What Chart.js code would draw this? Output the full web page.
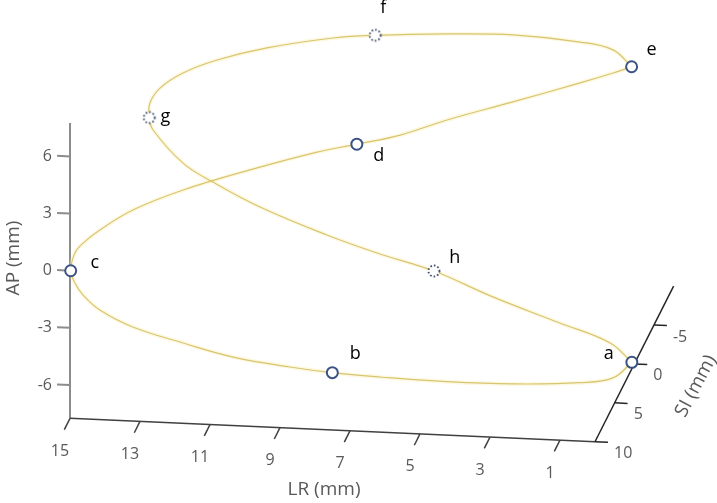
<!DOCTYPE html>
<html><head><meta charset="utf-8">
<script src="https://cdn.jsdelivr.net/npm/chart.js@4.4.1/dist/chart.umd.min.js"></script>
<style>html,body{margin:0;padding:0;background:#fff;}canvas{display:block;}</style>
</head><body>
<canvas id="c" width="717" height="503"></canvas>
<script>
// ---- trajectory samples (mm) ----
const trajLR = [0.07,0.33,1.10,2.86,4.64,6.50,7.83,8.97,10.52,11.88,13.26,14.17,14.63,14.86,14.98,14.86,14.63,14.17,13.26,11.88,10.06,8.22,7.13,5.96,4.70,3.02,1.38,0.55,0.11,0.89,2.00,4.08,6.08,8.20,9.46,11.44,12.93,13.95,14.64,14.95,14.98,14.86,13.96,13.06,11.66,9.67,8.18,6.49,4.66,2.52,0.86,0.07];
const trajAP = [-7.67,-7.49,-7.19,-6.83,-6.49,-6.19,-5.95,-5.50,-4.82,-3.95,-3.02,-2.08,-1.27,-0.63,0.00,0.94,1.46,2.12,3.12,4.08,4.96,5.76,6.10,6.43,7.04,7.39,7.50,7.68,7.72,7.64,7.35,6.94,6.42,5.93,5.48,4.47,3.47,2.54,1.57,0.68,-0.13,-0.73,-2.23,-2.99,-3.98,-5.00,-5.62,-6.18,-6.86,-7.24,-7.33,-7.67];
const trajSI = [0,2.5,4.0,5.4,6.3,6.8,7.1,7.7,8.4,9.0,9.5,9.8,9.95,10,10,10,9.95,9.8,9.5,9.0,8.2,7.5,7.1,6.5,5.8,4.0,1.5,0.5,-0.3,-2.5,-4.0,-5.5,-6.5,-7.1,-7.6,-8.4,-9.0,-9.4,-9.7,-9.9,-10,-9.9,-9.5,-9.1,-8.6,-7.9,-7.4,-6.8,-5.5,-3.5,-1.5,0];

// ---- labelled phases ----
const markerNames = ['a','b','c','d','e','f','g','h'];
const markerLR = [0.07,7.83,14.98,7.13,0.11,8.20,14.98,6.49];
const markerAP = [-7.67,-5.95,0.00,6.10,7.72,5.93,-0.13,-6.18];
const markerSI = [0,7.1,10,7.1,-0.3,-7.1,-10,-6.8];
const markerDotted = [false,false,false,false,false,true,true,true];

// ---- axes ----
const lrTicks = [15,13,11,9,7,5,3,1];
const apTicks = [-6,-3,0,3,6];
const siTicks = [10,5,0,-5];
const lrRange = [0,15];
const apRange = [-7.75,7.75];
const siRange = [-10,10];

// ---- view (orthographic projection) ----
const VIEW = {kx:0.1123, ky:0.0819, kz:0.4084};
function project(lr, ap, si){ return {x: lr + VIEW.kx*si, y: ap + VIEW.ky*lr - VIEW.kz*si}; }

const LABEL_OFF = {a:[-23,-8],b:[23,-19],c:[24,-8],d:[22,12],e:[20,-17],f:[8,-27],g:[16,-1],h:[21,-13]};
const TICK_FONT = '16px "Open Sans", sans-serif';
const TITLE_FONT = '19px "Open Sans", sans-serif';
const LETTER_FONT = '18px "Open Sans", sans-serif';

const curvePts = trajLR.map((lr,i)=>project(lr,trajAP[i],trajSI[i]));
// split the closed loop at the sharp turn-around points (a and e)
const eIdx = trajLR.findIndex((v,i)=>v===markerLR[4] && trajAP[i]===markerAP[4]);
const curveFront = curvePts.slice(0, eIdx+1);
const curveBack = curvePts.slice(eIdx);

const solidPts = [], dottedPts = [];
markerNames.forEach((n,i)=>{ const p = project(markerLR[i],markerAP[i],markerSI[i]); (markerDotted[i]?dottedPts:solidPts).push(p); });

// dotted marker image
const dotImg = document.createElement('canvas');
dotImg.width = 16; dotImg.height = 16;
(function(){ const g = dotImg.getContext('2d'); g.beginPath(); g.arc(8,8,5.5,0,Math.PI*2); g.fillStyle='#fff'; g.fill();
  g.setLineDash([1.6,2.0]); g.lineWidth=1.8; g.strokeStyle='#3c4c66'; g.stroke(); })();

const axes3d = {
  id:'axes3d',
  beforeDatasetsDraw(chart){
    const ctx = chart.ctx, sx = chart.scales.x, sy = chart.scales.y;
    const P = (lr,ap,si)=>{ const p = project(lr,ap,si); return [sx.getPixelForValue(p.x), sy.getPixelForValue(p.y)]; };
    const line = (a,b,color,w)=>{ ctx.beginPath(); ctx.moveTo(a[0],a[1]); ctx.lineTo(b[0],b[1]); ctx.strokeStyle=color; ctx.lineWidth=w; ctx.stroke(); };
    ctx.save();
    ctx.lineCap = 'butt';
    // AP axis (vertical) at LR=15, SI=10
    line(P(lrRange[1],apRange[0],siRange[1]), P(lrRange[1],apRange[1],siRange[1]), '#8c8c8c', 2);
    ctx.font = TICK_FONT; ctx.fillStyle = '#595959';
    ctx.textAlign='right'; ctx.textBaseline='middle';
    apTicks.forEach(v=>{ const a=P(lrRange[1],v,siRange[1]); const b=P(lrRange[1]+0.37,v,siRange[1]);
      line(a,b,'#8c8c8c',2); ctx.fillText(String(v), a[0]-18, a[1]); });
    // LR axis at AP min, SI=10
    line(P(lrRange[1],apRange[0],siRange[1]), P(lrRange[0],apRange[0],siRange[1]), '#404040', 1.5);
    ctx.textAlign='center';
    lrTicks.forEach(v=>{ const a=P(v,apRange[0],siRange[1]); const b=P(v,apRange[0],siRange[1]+1.45);
      line(a,b,'#404040',1.5); ctx.fillText(String(v), a[0]-10, a[1]+33); });
    // SI axis at LR=0, AP min
    line(P(lrRange[0],apRange[0],siRange[1]), P(lrRange[0],apRange[0],siRange[0]), '#262626', 1.5);
    ctx.textAlign='left';
    siTicks.forEach(v=>{ const a=P(lrRange[0],apRange[0],v); const b=P(lrRange[0]-0.37,apRange[0],v);
      line(a,b,'#262626',1.5); ctx.fillText(String(v), a[0]+19, a[1]+12); });
    // titles
    ctx.font = TITLE_FONT; ctx.fillStyle='#595959'; ctx.textAlign='center'; ctx.textBaseline='middle';
    ctx.fillText('LR (mm)', 324, 490);
    ctx.save(); ctx.translate(14,258); ctx.rotate(-Math.PI/2); ctx.fillText('AP (mm)',0,0); ctx.restore();
    ctx.save(); ctx.translate(696,386); ctx.rotate(-62*Math.PI/180); ctx.fillText('SI (mm)',0,0); ctx.restore();
    ctx.restore();
  },
  afterDatasetsDraw(chart){
    const ctx = chart.ctx, sx = chart.scales.x, sy = chart.scales.y;
    ctx.save();
    ctx.font = LETTER_FONT; ctx.fillStyle='#000'; ctx.textAlign='center'; ctx.textBaseline='middle';
    markerNames.forEach((n,i)=>{ const p = project(markerLR[i],markerAP[i],markerSI[i]);
      const x = sx.getPixelForValue(p.x), y = sy.getPixelForValue(p.y);
      ctx.fillText(n, x+LABEL_OFF[n][0], y+LABEL_OFF[n][1]); });
    ctx.restore();
  }
};

const coreLine = {showLine:true, pointRadius:0, borderColor:'rgb(216,197,112)', borderWidth:1.2, tension:0.4, fill:false, order:3};
const glowLine = {showLine:true, pointRadius:0, borderColor:'rgba(250,238,180,0.4)', borderWidth:4, tension:0.4, fill:false, order:4};

new Chart(document.getElementById('c'), {
  type:'scatter',
  data:{ datasets:[
    {data:solidPts, pointStyle:'circle', pointRadius:5.5, pointBorderWidth:2, pointBorderColor:'#3b5283', pointBackgroundColor:'#ffffff', showLine:false, order:1},
    {data:dottedPts, pointStyle:dotImg, pointRadius:6, showLine:false, order:1},
    Object.assign({data:curveFront}, coreLine),
    Object.assign({data:curveBack}, coreLine),
    Object.assign({data:curveFront}, glowLine),
    Object.assign({data:curveBack}, glowLine)
  ]},
  options:{
    responsive:false, animation:false, events:[], devicePixelRatio:1,
    layout:{padding:0, autoPadding:false},
    plugins:{legend:{display:false}, tooltip:{enabled:false}},
    scales:{
      x:{type:'linear', display:false, reverse:true, min:-2.363, max:18.123},
      y:{type:'linear', display:false, min:-15.05, max:11.354}
    }
  },
  plugins:[axes3d]
});
</script>
</body></html>
